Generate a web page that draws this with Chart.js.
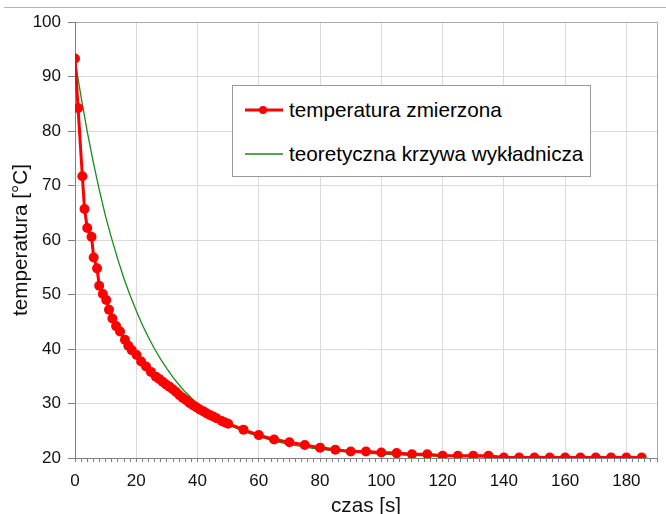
<!DOCTYPE html>
<html>
<head>
  <meta charset="utf-8">
  <title>Stygnięcie - temperatura</title>
  <script src="https://cdn.jsdelivr.net/npm/chart.js"></script>
  <style>
    body { margin: 0; background: #fff; font-family: "Liberation Sans", Arial, sans-serif; overflow: hidden; }
    #wrap { position: relative; width: 666px; height: 514px; overflow: hidden; }
    #topline { position: absolute; left: 4px; right: 0; top: 7px; height: 1px; background: #b4b4b4; }
    #legend { position: absolute; left: 232px; top: 85px; width: 357px; height: 90px; border: 1px solid #9a9a9a; background: #fff; }
    .item { position: absolute; left: 12px; height: 24px; display: flex; align-items: center; font-size: 20.7px; color: #000; white-space: nowrap; }
    .item svg { margin-right: 6px; }
  </style>
</head>
<body>
  <div id="wrap">
    <canvas id="chart" width="666" height="519"></canvas>
    <div id="topline"></div>
    <div id="legend">
      <div class="item" style="top:12px">
        <svg width="38" height="24"><line x1="0" y1="12" x2="38" y2="12" stroke="#ff0000" stroke-width="3"/><circle cx="18" cy="12" r="4" fill="#ff0000"/></svg>
        temperatura zmierzona
      </div>
      <div class="item" style="top:56px">
        <svg width="38" height="24"><line x1="0" y1="12" x2="38" y2="12" stroke="#1a8a1a" stroke-width="1.3"/></svg>
        teoretyczna krzywa wykładnicza
      </div>
    </div>
  </div>

  <script>
    // pomiary (czas w s, temperatura w °C)
    const czas = [0, 1, 2.4, 3.1, 4.0, 5.4, 6.1, 7.2, 7.9, 9.1, 10.2, 11.1, 12.2, 13.4, 14.7, 16.3, 17.4, 18.5,
      20.1, 21.6, 23.2, 24.8, 26.4, 27.5, 28.6, 29.7, 30.8, 31.9, 33.0, 34.1, 35.2, 36.3, 37.4, 38.5, 39.6,
      40.7, 41.8, 42.9, 44.0, 45.1, 46.2, 47.9, 49.0, 50.0,
      55, 60, 65, 70, 75, 80, 85, 90, 95, 100, 105, 110, 115, 120, 125, 130, 135, 140, 145, 150, 155, 160,
      165, 170, 175, 180, 185];
    const tempZmierzona = [93.3, 84.2, 71.7, 65.7, 62.2, 60.6, 56.8, 54.8, 51.6, 50.1, 49.0, 47.2, 45.6, 44.2, 43.2, 41.7, 40.6, 39.8,
      38.9, 37.7, 36.8, 35.8, 34.9, 34.5, 34.0, 33.5, 33.1, 32.6, 32.1, 31.5, 31.0, 30.6, 30.1, 29.7, 29.3,
      28.9, 28.6, 28.2, 27.9, 27.6, 27.3, 26.8, 26.5, 26.3,
      25.2, 24.2, 23.4, 22.9, 22.4, 21.9, 21.5, 21.2, 21.2, 21.0, 20.9, 20.7, 20.7, 20.4, 20.4, 20.4, 20.4, 20.1, 20.1, 20.1, 20.1, 20.1,
      20.1, 20.1, 20.1, 20.1, 20.1];

    // krzywa teoretyczna
    const czasTeoria = [0, 2, 4, 6, 8, 10, 12, 14, 16, 18, 20, 22, 24, 26, 28, 30, 32, 34, 36, 38, 40, 42, 44, 46, 48, 50,
      55, 60, 65, 70, 75, 80, 85, 90, 95, 100, 105, 110, 115, 120, 125, 130, 135, 140, 145, 150, 155, 160, 165, 170, 175, 180, 185];
    const tempTeoria = [93.0, 86.2, 79.9, 74.2, 69.0, 64.3, 60.2, 56.4, 52.9, 49.8, 47.0, 44.4, 42.1, 40.0, 38.1, 36.4, 34.8, 33.4, 32.1, 31.0, 29.9, 29.0, 28.1, 27.4, 26.7, 26.1,
      24.9, 23.9, 23.1, 22.5, 22.0, 21.6, 21.3, 21.1, 20.9, 20.7, 20.6, 20.5, 20.4, 20.3, 20.3, 20.2, 20.2, 20.1, 20.1, 20.1, 20.1, 20.0, 20.0, 20.0, 20.0, 20.0, 20.0];

    const xMin = 0, xMax = 190, xMinorStep = 2, xMajorStep = 20, xLastLabel = 180;
    const yMin = 20, yMax = 100, yStep = 10;

    Chart.defaults.font.family = '"Liberation Sans", Arial, sans-serif';
    Chart.defaults.color = '#111';

    const ctx = document.getElementById('chart').getContext('2d');
    const chart = new Chart(ctx, {
      type: 'line',
      data: {
        datasets: [
          {
            label: 'temperatura zmierzona',
            data: czas.map((t, i) => ({ x: t, y: tempZmierzona[i] })),
            borderColor: '#ff0000',
            backgroundColor: '#ff0000',
            borderWidth: 3,
            pointRadius: 5,
            pointBorderWidth: 0,
            pointBackgroundColor: '#ff0000',
            tension: 0,
            order: 0
          },
          {
            label: 'teoretyczna krzywa wykładnicza',
            data: czasTeoria.map((t, i) => ({ x: t, y: tempTeoria[i] })),
            borderColor: '#1a8a1a',
            borderWidth: 1.3,
            pointRadius: 0,
            tension: 0,
            order: 1
          }
        ]
      },
      options: {
        responsive: false,
        animation: false,
        layout: { padding: { top: 22, right: 1, left: 0, bottom: 0 } },
        plugins: { legend: { display: false }, tooltip: { enabled: false } },
        scales: {
          x: {
            type: 'linear',
            min: xMin,
            max: xMax,
            afterFit: s => { s.height = 61; },
            border: { color: '#808080', width: 1 },
            grid: {
              color: c => {
                const v = c.tick ? c.tick.value : 0;
                if (v === xMax) return '#a8a8a8';
                return v % xMajorStep === 0 ? '#dadada' : 'rgba(0,0,0,0)';
              },
              tickColor: '#808080',
              tickLength: 4
            },
            ticks: {
              stepSize: xMinorStep,
              autoSkip: false,
              maxRotation: 0,
              padding: 9,
              font: { size: 17 },
              color: '#111',
              callback: v => (v % xMajorStep === 0 && v <= xLastLabel) ? v : ''
            },
            title: {
              display: true,
              text: 'czas [s]',
              font: { size: 20.7 },
              color: '#111',
              padding: { top: 0, bottom: 0 }
            }
          },
          y: {
            min: yMin,
            max: yMax,
            afterFit: s => { s.width = 75; },
            border: { color: '#808080', width: 1 },
            grid: {
              color: c => (c.tick && c.tick.value === yMax) ? '#a8a8a8' : '#dadada',
              tickColor: '#808080',
              tickLength: 7
            },
            ticks: {
              stepSize: yStep,
              padding: 7,
              font: { size: 17 },
              color: '#111'
            },
            title: {
              display: true,
              text: 'temperatura [°C]',
              font: { size: 20.7 },
              color: '#111',
              padding: { top: 9, bottom: 0 }
            }
          }
        }
      }
    });
  </script>
</body>
</html>
